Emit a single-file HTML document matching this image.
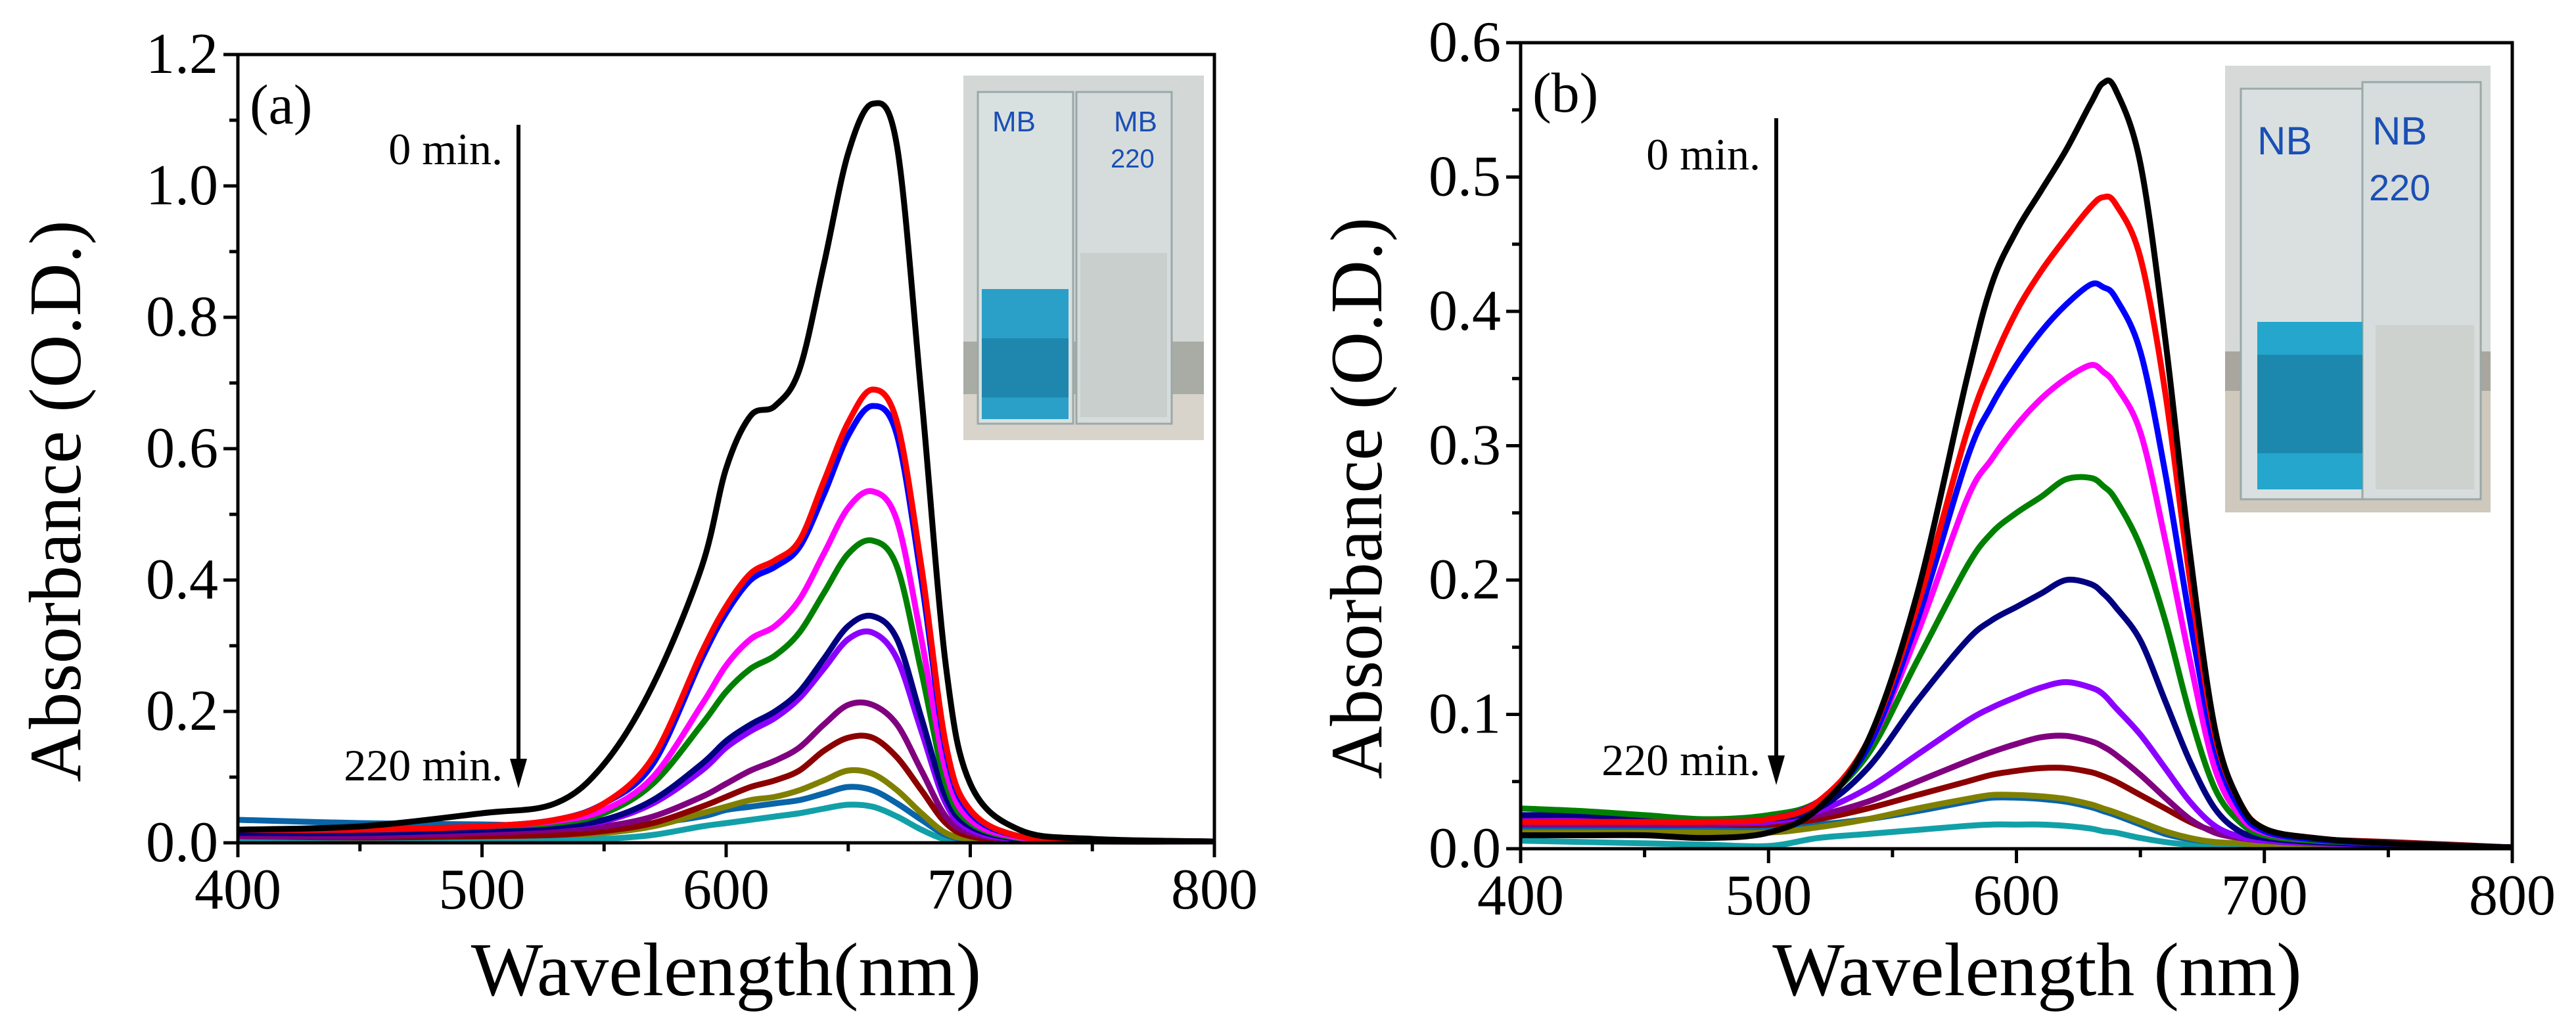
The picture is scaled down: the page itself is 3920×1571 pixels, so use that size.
<!DOCTYPE html>
<html><head><meta charset="utf-8"><style>
html,body{margin:0;padding:0;background:#fff;}
svg{display:block;}
svg text{font-family:"Liberation Serif",serif;}
</style></head><body>
<svg id="fig" width="3920" height="1571" viewBox="0 0 3920 1571" xmlns="http://www.w3.org/2000/svg">
<g id="insetA">
<rect x="1466" y="115" width="366" height="555" fill="#d3d8d6"/>
<rect x="1466" y="520" width="366" height="150" fill="#a9aba5"/>
<rect x="1466" y="600" width="366" height="70" fill="#d8d4cc"/>
<rect x="1488" y="140" width="145" height="505" fill="#d9e1e0" stroke="#9aa8a8" stroke-width="3"/>
<rect x="1638" y="140" width="145" height="505" fill="#d6dcdb" stroke="#9aa8a8" stroke-width="3"/>
<rect x="1494" y="440" width="132" height="198" fill="#2aa0c8"/>
<rect x="1494" y="515" width="132" height="90" fill="#1f86ae"/>
<rect x="1644" y="385" width="132" height="250" fill="#c9cfcc"/>
<text x="1510" y="200" font-size="44" fill="#1a4fb5" style="font-family:'Liberation Sans',sans-serif">MB</text>
<text x="1695" y="200" font-size="44" fill="#1a4fb5" style="font-family:'Liberation Sans',sans-serif">MB</text>
<text x="1690" y="255" font-size="40" fill="#1a4fb5" style="font-family:'Liberation Sans',sans-serif">220</text>
</g>
<g id="insetB">
<rect x="3386" y="100" width="404" height="680" fill="#d5dad8"/>
<rect x="3386" y="535" width="404" height="245" fill="#a8a69e"/>
<rect x="3386" y="595" width="404" height="185" fill="#cfc8bc"/>
<rect x="3410" y="135" width="190" height="625" fill="#d9e0df" stroke="#9aa8a8" stroke-width="3"/>
<rect x="3595" y="125" width="180" height="635" fill="#d7dddc" stroke="#9aa8a8" stroke-width="3"/>
<rect x="3435" y="490" width="160" height="255" fill="#25a6cc"/>
<rect x="3435" y="540" width="160" height="150" fill="#1c88ad"/>
<rect x="3615" y="495" width="150" height="250" fill="#cdd2cf"/>
<text x="3435" y="235" font-size="60" fill="#1a4fb5" style="font-family:'Liberation Sans',sans-serif">NB</text>
<text x="3610" y="220" font-size="60" fill="#1a4fb5" style="font-family:'Liberation Sans',sans-serif">NB</text>
<text x="3605" y="305" font-size="56" fill="#1a4fb5" style="font-family:'Liberation Sans',sans-serif">220</text>
</g>
<g id="layer"></g>
</svg>
<script>
// ---- Panel (a) data ----
const wlA = [400,450,500,530,550,570,590,600,610,620,630,640,650,660,670,680,690,700,720,750,800];
const a_black  = [0.02,0.025,0.045,0.06,0.12,0.24,0.42,0.57,0.65,0.665,0.72,0.88,1.05,1.125,1.06,0.68,0.27,0.09,0.02,0.006,0.002];
const a_red    = [0.02,0.02,0.025,0.035,0.06,0.13,0.29,0.36,0.41,0.43,0.46,0.55,0.64,0.69,0.64,0.42,0.15,0.05,0.01,0.004,0.002];
const a_blue   = [0.02,0.02,0.025,0.035,0.06,0.12,0.28,0.35,0.40,0.42,0.45,0.53,0.62,0.665,0.62,0.40,0.14,0.045,0.01,0.004,0.002];
const a_mag    = [0.02,0.02,0.025,0.033,0.05,0.10,0.21,0.27,0.31,0.33,0.37,0.44,0.51,0.535,0.49,0.31,0.11,0.035,0.008,0.003,0.002];
const a_green  = [0.02,0.02,0.025,0.03,0.045,0.09,0.18,0.23,0.265,0.285,0.32,0.38,0.44,0.46,0.42,0.26,0.09,0.03,0.007,0.003,0.002];
const a_navy   = [0.015,0.015,0.02,0.025,0.035,0.065,0.12,0.155,0.18,0.2,0.23,0.28,0.33,0.345,0.31,0.19,0.07,0.025,0.006,0.003,0.002];
const a_violet = [0.015,0.015,0.02,0.025,0.033,0.06,0.11,0.145,0.17,0.19,0.22,0.265,0.31,0.32,0.28,0.17,0.06,0.02,0.005,0.003,0.002];
const a_purple = [0.01,0.01,0.015,0.02,0.025,0.04,0.07,0.09,0.11,0.125,0.145,0.18,0.21,0.21,0.18,0.11,0.04,0.015,0.004,0.002,0.002];
const a_dred   = [0.01,0.008,0.01,0.012,0.018,0.03,0.055,0.07,0.085,0.095,0.11,0.14,0.16,0.16,0.13,0.08,0.03,0.01,0.003,0.002,0.002];
const a_olive  = [0.02,0.015,0.012,0.012,0.015,0.025,0.045,0.055,0.065,0.07,0.08,0.095,0.11,0.105,0.08,0.045,0.015,0.006,0.003,0.002,0.002];
const a_steel  = [0.035,0.03,0.028,0.025,0.025,0.03,0.04,0.05,0.055,0.06,0.065,0.075,0.085,0.08,0.06,0.035,0.012,0.005,0.003,0.002,0.002];
const a_teal   = [0.005,0.005,0.005,0.005,0.006,0.012,0.025,0.03,0.035,0.04,0.045,0.052,0.058,0.055,0.04,0.02,0.005,0.003,0.002,0.002,0.002];
const yTicksA = ["0.0","0.2","0.4","0.6","0.8","1.0","1.2"];
// ---- Panel (b) data ----
const wlB = [400,425,450,475,500,520,540,560,580,590,600,610,620,630,635,640,650,660,670,680,690,700,720,750,800];
const b_black  = [0.01,0.01,0.01,0.008,0.012,0.03,0.08,0.19,0.35,0.42,0.46,0.49,0.52,0.555,0.57,0.565,0.51,0.38,0.22,0.09,0.035,0.015,0.008,0.004,0.001];
const b_red    = [0.02,0.02,0.02,0.02,0.022,0.035,0.08,0.18,0.31,0.36,0.40,0.43,0.455,0.478,0.485,0.48,0.44,0.34,0.2,0.085,0.035,0.015,0.008,0.004,0.001];
const b_blue   = [0.02,0.02,0.02,0.02,0.022,0.035,0.075,0.17,0.29,0.33,0.36,0.385,0.405,0.42,0.418,0.41,0.37,0.28,0.17,0.075,0.03,0.013,0.007,0.004,0.001];
const b_mag    = [0.02,0.02,0.02,0.02,0.022,0.035,0.075,0.16,0.26,0.29,0.315,0.335,0.35,0.36,0.355,0.345,0.31,0.23,0.14,0.06,0.025,0.012,0.007,0.004,0.001];
const b_green  = [0.03,0.028,0.025,0.022,0.025,0.035,0.07,0.14,0.21,0.235,0.25,0.262,0.275,0.276,0.27,0.26,0.225,0.17,0.1,0.045,0.02,0.01,0.006,0.004,0.001];
const b_navy   = [0.025,0.025,0.022,0.02,0.022,0.03,0.06,0.11,0.155,0.17,0.18,0.19,0.2,0.197,0.19,0.18,0.155,0.11,0.065,0.03,0.013,0.008,0.005,0.003,0.001];
const b_violet = [0.022,0.022,0.02,0.02,0.02,0.028,0.045,0.07,0.095,0.105,0.113,0.12,0.124,0.12,0.115,0.105,0.085,0.06,0.035,0.017,0.009,0.006,0.004,0.003,0.001];
const b_purple = [0.018,0.018,0.018,0.018,0.02,0.025,0.035,0.05,0.065,0.072,0.078,0.083,0.084,0.08,0.076,0.07,0.055,0.038,0.022,0.012,0.008,0.006,0.004,0.003,0.001];
const b_dred   = [0.02,0.02,0.018,0.018,0.018,0.022,0.03,0.04,0.05,0.055,0.058,0.06,0.06,0.057,0.054,0.05,0.04,0.03,0.02,0.013,0.01,0.009,0.007,0.005,0.001];
const b_olive  = [0.012,0.012,0.012,0.012,0.012,0.016,0.022,0.03,0.037,0.04,0.04,0.039,0.037,0.033,0.03,0.027,0.02,0.013,0.008,0.005,0.004,0.003,0.003,0.002,0.001];
const b_steel  = [0.015,0.015,0.015,0.015,0.016,0.018,0.022,0.028,0.035,0.038,0.038,0.037,0.035,0.031,0.028,0.025,0.018,0.011,0.007,0.005,0.004,0.003,0.003,0.002,0.001];
const b_teal   = [0.006,0.005,0.004,0.003,0.002,0.008,0.011,0.014,0.017,0.018,0.018,0.018,0.017,0.015,0.013,0.012,0.008,0.005,0.003,0.002,0.002,0.002,0.002,0.002,0.001];
const yTicksB = ["0.0","0.1","0.2","0.3","0.4","0.5","0.6"];
const xTicks = ["400","500","600","700","800"];

const colors = ["#000000","#ff0000","#0000ff","#ff00ff","#008000","#000080","#8c00ff","#800080","#8b0000","#808000","#0a64a8","#12a0a8"];
const seriesA = [a_black,a_red,a_blue,a_mag,a_green,a_navy,a_violet,a_purple,a_dred,a_olive,a_steel,a_teal];
const seriesB = [b_black,b_red,b_blue,b_mag,b_green,b_navy,b_violet,b_purple,b_dred,b_olive,b_steel,b_teal];
const names = ["0-min","20-min","40-min","60-min","80-min","100-min","120-min","140-min","160-min","180-min","200-min","220-min"];

const NS = "http://www.w3.org/2000/svg";
const layer = document.getElementById("layer");
function mk(tag, attrs, parent){const e=document.createElementNS(NS,tag);for(const k in attrs)e.setAttribute(k,attrs[k]);(parent||layer).appendChild(e);return e;}

function smoothPath(pts){
  let d="M"+pts[0][0].toFixed(1)+","+pts[0][1].toFixed(1);
  for(let i=0;i<pts.length-1;i++){
    const p0=pts[Math.max(0,i-1)],p1=pts[i],p2=pts[i+1],p3=pts[Math.min(pts.length-1,i+2)];
    const c1=[p1[0]+(p2[0]-p0[0])/6,p1[1]+(p2[1]-p0[1])/6];
    const c2=[p2[0]-(p3[0]-p1[0])/6,p2[1]-(p3[1]-p1[1])/6];
    d+=" C"+c1[0].toFixed(1)+","+c1[1].toFixed(1)+" "+c2[0].toFixed(1)+","+c2[1].toFixed(1)+" "+p2[0].toFixed(1)+","+p2[1].toFixed(1);
  }
  return d;
}

function panel(cfg){
  const g=mk("g",{});
  
  
  const X=w=>cfg.x0+(w-400)/400*(cfg.x1-cfg.x0);
  const Y=v=>cfg.y0-v/cfg.ymax*(cfg.y0-cfg.y1);
  for(let s=cfg.series.length-1;s>=0;s--){
    const pts=cfg.wl.map((w,i)=>[X(w),Y(cfg.series[s][i])]);
    const p=mk("path",{d:smoothPath(pts),fill:"none",stroke:colors[s],"stroke-width":9,"stroke-linejoin":"round"},g);
    
    
  }
  const fr=mk("rect",{x:cfg.x0,y:cfg.y1,width:cfg.x1-cfg.x0,height:cfg.y0-cfg.y1,fill:"none",stroke:"#000","stroke-width":5},g);
  
  
  for(let w=400;w<=800;w+=50){
    const major=(w%100===0);
    mk("line",{x1:X(w),x2:X(w),y1:cfg.y0,y2:cfg.y0+(major?22:13),stroke:"#000","stroke-width":5},g);
  }
  xTicks.forEach(t=>{
    const tx=mk("text",{x:X(+t),y:cfg.y0+100,"font-size":88,"text-anchor":"middle"},g);
    tx.textContent=t;
    
    
  });
  const n=cfg.yTicks.length-1;
  for(let i=0;i<=2*n;i++){
    const v=cfg.ymax*i/(2*n);
    mk("line",{x1:cfg.x0-(i%2===0?22:13),x2:cfg.x0,y1:Y(v),y2:Y(v),stroke:"#000","stroke-width":5},g);
  }
  cfg.yTicks.forEach(t=>{
    const tx=mk("text",{x:cfg.x0-30,y:Y(+t)+28,"font-size":88,"text-anchor":"end"},g);
    tx.textContent=t;
    
    
  });
  const xt=mk("text",{x:cfg.xtX,y:1515,"font-size":116,"text-anchor":"middle"},g);
  xt.textContent=cfg.xtitle;
  
  
  const yt=mk("text",{x:0,y:0,"font-size":112,"text-anchor":"middle",transform:"translate("+cfg.ytX+","+((cfg.y0+cfg.y1)/2+80)+") rotate(-90)"},g);
  yt.textContent="Absorbance (O.D.)";
  
  
  const lb=mk("text",{x:cfg.x0+18,y:cfg.y1+105,"font-size":86},g);
  lb.textContent=cfg.label;
  
  
  const t0=mk("text",{x:cfg.ax-24,y:cfg.t0y,"font-size":68,"text-anchor":"end"},g);
  t0.textContent="0 min.";
  
  
  const t1=mk("text",{x:cfg.ax-24,y:cfg.t1y,"font-size":68,"text-anchor":"end"},g);
  t1.textContent="220 min.";
  
  
  const ar=mk("line",{x1:cfg.ax,x2:cfg.ax,y1:cfg.ay0,y2:cfg.ay1-30,stroke:"#000","stroke-width":6},g);
  
  
  mk("polygon",{points:(cfg.ax-13)+","+(cfg.ay1-45)+" "+(cfg.ax+13)+","+(cfg.ay1-45)+" "+cfg.ax+","+cfg.ay1,fill:"#000"},g);
}

panel({id:"panel-a",x0:362,x1:1848,y0:1283,y1:83,ymax:1.2,wl:wlA,series:seriesA,yTicks:yTicksA,
  xtitle:"Wavelength(nm)",xtX:1105,ytX:122,label:"(a)",ax:789,ay0:190,ay1:1200,t0y:250,t1y:1188});
panel({id:"panel-b",x0:2314,x1:3823,y0:1292,y1:65,ymax:0.6,wl:wlB,series:seriesB,yTicks:yTicksB,
  xtitle:"Wavelength (nm)",xtX:3100,ytX:2102,label:"(b)",ax:2703,ay0:180,ay1:1195,t0y:258,t1y:1180});
</script>
</body></html>
